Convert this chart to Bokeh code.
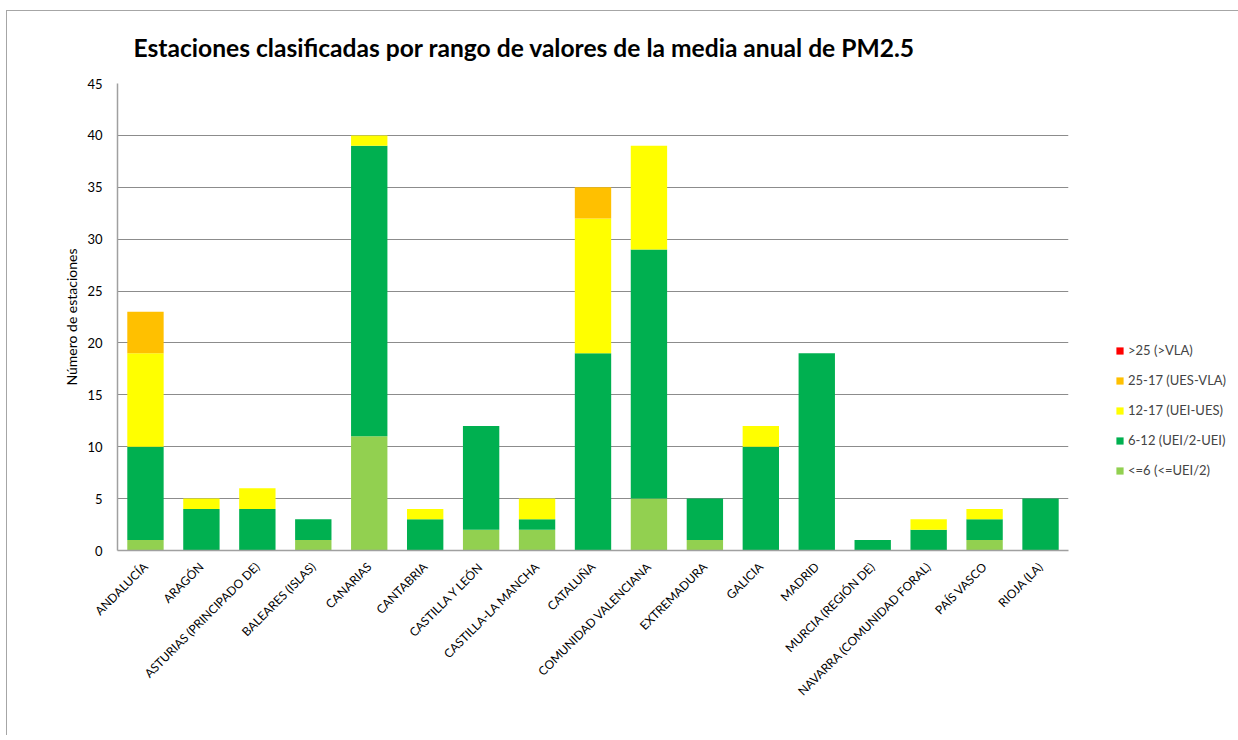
import math
from bokeh.plotting import figure
from bokeh.models import ColumnDataSource, Legend, LegendItem, FixedTicker, Range1d
from bokeh.embed import file_html
from bokeh.resources import INLINE

categories = ["ANDALUCÍA", "ARAGÓN", "ASTURIAS (PRINCIPADO DE)", "BALEARES (ISLAS)",
              "CANARIAS", "CANTABRIA", "CASTILLA Y LEÓN", "CASTILLA-LA MANCHA",
              "CATALUÑA", "COMUNIDAD VALENCIANA", "EXTREMADURA", "GALICIA", "MADRID",
              "MURCIA (REGIÓN DE)", "NAVARRA (COMUNIDAD FORAL)", "PAÍS VASCO", "RIOJA (LA)"]

le6 = [1, 0, 0, 1, 11, 0, 2, 2, 0, 5, 1, 0, 0, 0, 0, 1, 0]
r6_12 = [9, 4, 4, 2, 28, 3, 10, 1, 19, 24, 4, 10, 19, 1, 2, 2, 5]
r12_17 = [9, 1, 2, 0, 1, 1, 0, 2, 13, 10, 0, 2, 0, 0, 1, 1, 0]
r25_17 = [4, 0, 0, 0, 0, 0, 0, 0, 3, 0, 0, 0, 0, 0, 0, 0, 0]
gt25 = [0] * 17

series_keys = ["le6", "r6_12", "r12_17", "r25_17", "gt25"]
series_labels = ["<=6 (<=UEI/2)", "6-12 (UEI/2-UEI)", "12-17 (UEI-UES)",
                 "25-17 (UES-VLA)", ">25 (>VLA)"]
series_colors = ["#92D050", "#00B050", "#FFFF00", "#FFC000", "#FF0000"]
y_ticks = list(range(0, 46, 5))

source = ColumnDataSource(dict(cat=categories, le6=le6, r6_12=r6_12,
                               r12_17=r12_17, r25_17=r25_17, gt25=gt25))

FONT = "Lato"

p = figure(x_range=categories, y_range=Range1d(0, 45),
           frame_width=951, frame_height=467,
           min_border_left=110, min_border_right=168,
           min_border_top=72, min_border_bottom=185,
           output_backend="svg", toolbar_location=None,
           title="Estaciones clasificadas por rango de valores de la media anual de PM2.5")
p.margin = (10, 0, 0, 6)
p.styles = {"border-left": "1px solid #a6a6a6", "border-top": "1px solid #a6a6a6"}

renderers = p.vbar_stack(series_keys, x="cat", width=0.65, color=series_colors,
                         line_color=None, source=source)

p.title.text_font = FONT
p.title.text_font_size = "24.6px"
p.title.text_font_style = "bold"
p.title.text_color = "#000000"
p.title.align = "left"
p.title.vertical_align = "top"
p.title.offset = 16
p.title.standoff = 39

p.outline_line_color = None
p.background_fill_color = "white"
p.border_fill_color = "white"

p.xgrid.grid_line_color = None
p.ygrid.grid_line_color = "#8c8c8c"
p.ygrid.grid_line_width = 1

p.yaxis.ticker = FixedTicker(ticks=y_ticks)
p.yaxis.axis_label = "Número de estaciones"
p.yaxis.axis_label_text_font = FONT
p.yaxis.axis_label_text_font_size = "14px"
p.yaxis.axis_label_text_font_style = "normal"
p.yaxis.axis_label_standoff = 4
p.yaxis.major_label_text_font = FONT
p.yaxis.major_label_text_font_size = "13px"
p.yaxis.major_label_standoff = 9

p.xaxis.major_label_orientation = math.pi / 4
p.xaxis.major_label_text_font = FONT
p.xaxis.major_label_text_font_size = "12px"
p.xaxis.major_label_standoff = 8

for ax in (p.xaxis[0], p.yaxis[0]):
    ax.axis_line_color = "#a0a0a0"
    ax.axis_line_width = 1.5
    ax.major_tick_line_color = None
    ax.minor_tick_line_color = None
    ax.major_label_text_color = "#000000"
    ax.axis_label_text_color = "#000000"

items = [LegendItem(label=series_labels[i], renderers=[renderers[i]]) for i in range(4, -1, -1)]
legend = Legend(items=items, location=(47, 70), orientation="vertical",
                border_line_color=None, background_fill_alpha=0,
                padding=0, margin=0, spacing=10,
                glyph_width=9, glyph_height=9, label_height=20,
                label_standoff=4, label_text_font=FONT, label_text_font_size="13px")
p.add_layout(legend, "right")

open("out.html", "w").write(file_html(p, INLINE))
